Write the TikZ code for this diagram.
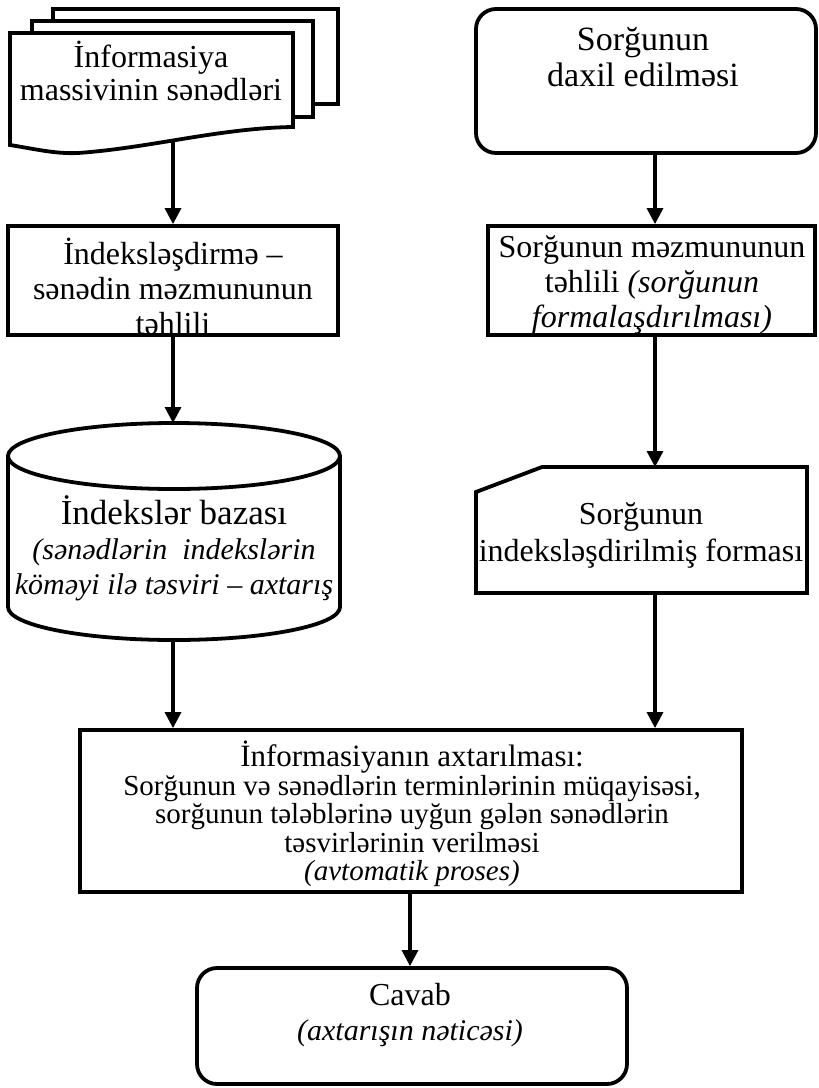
\documentclass[tikz,border=0pt]{standalone}
\usepackage{fontspec}
\setmainfont{Liberation Serif}
\usetikzlibrary{arrows.meta,calc}
\begin{document}
\begin{tikzpicture}[x=1pt,y=1pt,
  outline/.style={draw, line width=3.8pt, line join=miter},
  boxshape/.style={outline, inner sep=0pt},
  arr/.style={line width=3.2pt, -{Triangle[width=16pt,length=16pt]}},
  label32/.style={font=\fontsize{32}{35}\selectfont, align=center, inner sep=0pt},
  label30/.style={font=\fontsize{29}{28.5}\selectfont, align=center, inner sep=0pt}]
\useasboundingbox (0,0) rectangle (819,-1088);

% stack of documents
\draw[outline] (313,-104) -- (338,-104) -- (338,-9) -- (53,-9) -- (53,-21);
\draw[outline] (293,-117) -- (313,-117) -- (313,-21) -- (32,-21) -- (32,-33);
\draw[outline, fill=white] (10,-33) -- (293,-33) -- (293,-127)
  .. controls (220,-128) and (150,-148) .. (78,-153)
  .. controls (55,-154) and (35,-149) .. (10,-145) -- cycle;
\node[label32, font=\fontsize{32}{33}\selectfont] (doc) at (151,-71) {İnformasiya\\massivinin sənədləri};
\coordinate (docout) at (173,-142);

% indexing
\node[boxshape, minimum width=330pt, minimum height=109pt] (idx) at (173,-280.5) {};
\node[label32] (idxt) at (173,-286) {İndeksləşdirmə –\\sənədin məzmununun\\təhlili};

% index base (cylinder)
\draw[outline] (8,-607) arc[start angle=180, end angle=360, x radius=166, y radius=33]
  -- (340,-456) arc[start angle=0, end angle=180, x radius=166, y radius=33] -- cycle;
\draw[outline] (8,-456) arc[start angle=180, end angle=360, x radius=166, y radius=33];
\node[label32, font=\fontsize{35}{35}\selectfont] (cylt) at (174,-548) {İndekslər bazası\\
  {\fontsize{30}{35}\selectfont\itshape (sənədlərin~ indekslərin}\\
  {\fontsize{30}{35}\selectfont\itshape köməyi ilə təsviri – axtarış}};
\coordinate (cyltop) at (173,-423);
\coordinate (cylbot) at (173,-640);

% query input
\node[boxshape, rounded corners=20pt, minimum width=340pt, minimum height=144pt] (rnd) at (646,-81) {};
\node[label32, font=\fontsize{34}{36}\selectfont] (rndt) at (643,-57) {Sorğunun\\daxil edilməsi};
\coordinate (rndout) at (655,-153);

% query analysis
\node[boxshape, minimum width=327pt, minimum height=109pt] (qan) at (651.5,-280.5) {};
\node[label32] (qant) at (652,-285) {Sorğunun məzmununun\\təhlili \textit{(sorğunun}\\\textit{formalaşdırılması)}};

% indexed query (card)
\draw[outline] (476,-492) -- (542,-467) -- (807,-467) -- (807,-593) -- (476,-593) -- cycle;
\node[label32, font=\fontsize{32}{37}\selectfont] (cardt) at (641,-535) {Sorğunun\\indeksləşdirilmiş forması};
\coordinate (cardtop) at (655,-467);
\coordinate (cardbot) at (655,-593);

% search
\node[boxshape, minimum width=662pt, minimum height=162pt] (srch) at (411,-811) {};
\node[label30] (srcht) at (412,-814) {{\fontsize{31}{28.5}\selectfont İnformasiyanın axtarılması:}\\Sorğunun və sənədlərin terminlərinin müqayisəsi,\\sorğunun tələblərinə uyğun gələn sənədlərin\\təsvirlərinin verilməsi\\\textit{(avtomatik proses)}};
\coordinate (srchout) at (410,-892);

% answer
\node[boxshape, rounded corners=20pt, minimum width=430pt, minimum height=116pt] (cav) at (412,-1026) {};
\node[label32] (cavt) at (410,-1015) {Cavab\\{\fontsize{30}{35}\selectfont\itshape (axtarışın nəticəsi)}};

% connectors
\draw[arr] (docout) -- (idx.north);
\draw[arr] (idx.south) -- (cyltop);
\draw[arr] (cylbot) -- (cylbot |- srch.north);
\draw[arr] (rndout) -- (rndout |- qan.north);
\draw[arr] (rndout |- qan.south) -- (cardtop);
\draw[arr] (cardbot) -- (cardbot |- srch.north);
\draw[arr] (srchout) -- (srchout |- cav.north);
\end{tikzpicture}
\end{document}
